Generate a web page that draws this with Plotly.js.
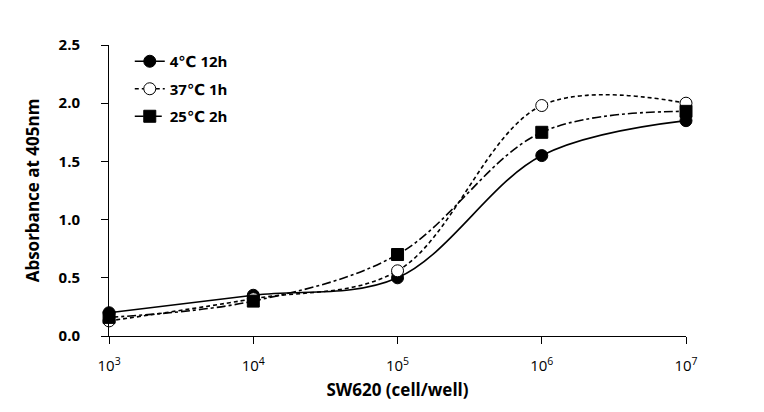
<!DOCTYPE html>
<html><head><meta charset="utf-8">
<script src="https://cdn.plot.ly/plotly-3.0.1.min.js"></script>
<style>body{margin:0;background:#fff}#c{width:764px;height:412px}</style>
</head><body><div id="c"></div>
<script>
const cells = [1e3, 1e4, 1e5, 1e6, 1e7];
const tickLabels = ['10<sup>3</sup>','10<sup>4</sup>','10<sup>5</sup>','10<sup>6</sup>','10<sup>7</sup>'];
const names = ['4℃ 12h', '37℃ 1h', '25℃ 2h'];
const s4C12h = [0.20, 0.35, 0.50, 1.55, 1.85];
const s37C1h = [0.13, 0.32, 0.56, 1.98, 2.00];
const s25C2h = [0.16, 0.30, 0.70, 1.75, 1.93];

const font = "'Open Sans', 'DejaVu Sans', sans-serif";
function tr(y, name, dash, sym, fill, grp){
  return {x: cells, y: y, name: name, legendgroup: grp, type:'scatter', mode:'lines+markers', cliponaxis:false,
    line:{color:'#000', width:1.6, dash:dash, shape:'spline', smoothing:1},
    marker:{symbol:sym, size:12, color:fill, line:{color:'#000', width:1}}};
}
const data = [
  tr(s4C12h, names[0], 'solid', 'circle', '#000', 'a'),
  tr(s37C1h, names[1], '4px,3px', 'circle', '#fff', 'b'),
  tr(s25C2h, names[2], 'dashdot', 'square', '#000', 'c')
];
const layout = {
  width:764, height:412, margin:{l:109, r:78, t:45, b:76},
  paper_bgcolor:'#fff', plot_bgcolor:'#fff',
  font:{family:font, color:'#000', size:15},
  showlegend:true,
  legend:{x:0.036, y:1.0, xanchor:'left', yanchor:'top', bgcolor:'rgba(0,0,0,0)',
    font:{size:15, family:font, weight:'bold'}, tracegroupgap:5},
  xaxis:{type:'log', range:[2.9995,7], tickvals:cells, ticktext:tickLabels, showgrid:false, zeroline:false,
    showline:true, linecolor:'#000', linewidth:1, ticks:'outside', ticklen:7, tickcolor:'#000',
    tickfont:{size:15, family:font}, ticklabelstandoff:9,
    title:{text:'<b>SW620 (cell/well)</b>', font:{size:17, family:font}, standoff:10}},
  yaxis:{range:[0,2.5], dtick:0.5, tick0:0, tickformat:'.1f', showgrid:false, zeroline:false,
    showline:true, linecolor:'#000', linewidth:1, ticks:'outside', ticklen:7, tickcolor:'#000',
    tickfont:{size:15, family:font, weight:'bold'}, ticklabelstandoff:18,
    title:{text:'<b>Absorbance at 405nm</b>', font:{size:17, family:font}, standoff:14}}
};
Plotly.newPlot('c', data, layout, {displayModeBar:false, staticPlot:true});
</script></body></html>
